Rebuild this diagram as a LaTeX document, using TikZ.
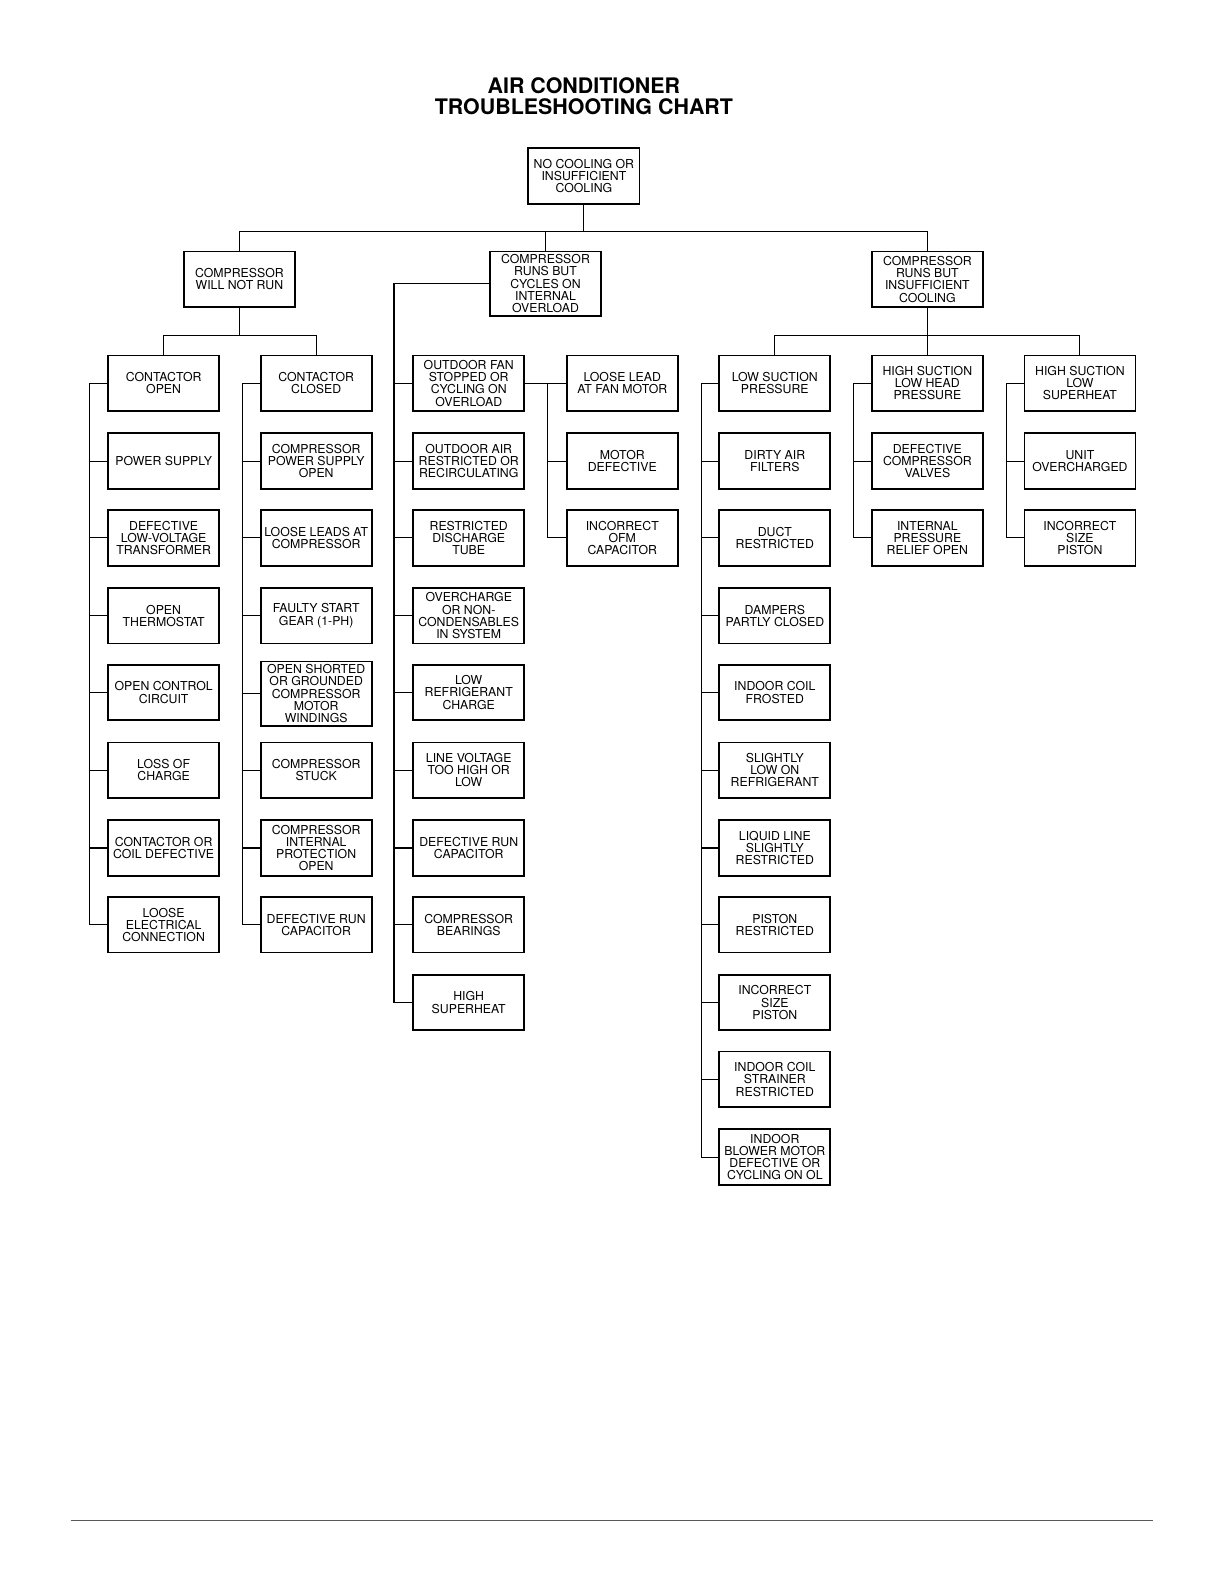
\documentclass[tikz,border=0pt]{standalone}
\usepackage{fontspec}
\setmainfont{TeX Gyre Heros}
\usetikzlibrary{positioning}
\tikzset {
  every node/.style={font=\fontsize{6.15}{6.1}\selectfont},
  cause/.style={draw, line width=.9pt, align=center, anchor=north,
    minimum width=55.5pt, minimum height=27.8pt, inner sep=1.5pt},
  link/.style={line width=.55pt},
}

\begin{document}
\begin{tikzpicture}[x=0.505pt, y=-0.505pt]
  \useasboundingbox (0,0) rectangle (1212,1568);

  \node[anchor=north, inner sep=0, align=center,
    font=\fontsize{10.7}{10.8}\selectfont\bfseries] (title) at (578,76)
    {AIR CONDITIONER\\TROUBLESHOOTING CHART};

  % top levels
  \node[cause] (root) at (578,146) {NO COOLING OR\\INSUFFICIENT\\COOLING};
  \node[cause] (wnr) at (237,248) {COMPRESSOR\\WILL NOT RUN};
  \node[cause] (cyc) at (540,248) {COMPRESSOR\\RUNS BUT\\CYCLES ON\\INTERNAL\\OVERLOAD};
  \node[cause] (ins) at (918,248) {COMPRESSOR\\RUNS BUT\\INSUFFICIENT\\COOLING};

  % compressor will not run
  \node[cause] (copen) at (162,351) {CONTACTOR\\OPEN};
  \node[cause] (op2) at (162,428) {POWER SUPPLY};
  \node[cause] (op3) at (162,504) {DEFECTIVE\\LOW-VOLTAGE\\TRANSFORMER};
  \node[cause] (op4) at (162,581) {OPEN\\THERMOSTAT};
  \node[cause] (op5) at (162,657) {OPEN CONTROL\\CIRCUIT};
  \node[cause] (op6) at (162,734) {LOSS OF\\CHARGE};
  \node[cause] (op7) at (162,811) {CONTACTOR OR\\COIL DEFECTIVE};
  \node[cause] (op8) at (162,887) {LOOSE\\ELECTRICAL\\CONNECTION};

  \node[cause] (cclosed) at (313,351) {CONTACTOR\\CLOSED};
  \node[cause] (cl2) at (313,428) {COMPRESSOR\\POWER SUPPLY\\OPEN};
  \node[cause] (cl3) at (313,504) {LOOSE LEADS AT\\COMPRESSOR};
  \node[cause] (cl4) at (313,581) {FAULTY START\\GEAR (1-PH)};
  \node[cause] (cl5) at (313,654) {OPEN SHORTED\\OR GROUNDED\\COMPRESSOR\\MOTOR\\WINDINGS};
  \node[cause] (cl6) at (313,734) {COMPRESSOR\\STUCK};
  \node[cause] (cl7) at (313,811) {COMPRESSOR\\INTERNAL\\PROTECTION\\OPEN};
  \node[cause] (cl8) at (313,887) {DEFECTIVE RUN\\CAPACITOR};

  % compressor cycles on internal overload
  \node[cause] (cy1) at (464,351) {OUTDOOR FAN\\STOPPED OR\\CYCLING ON\\OVERLOAD};
  \node[cause] (cy2) at (464,428) {OUTDOOR AIR\\RESTRICTED OR\\RECIRCULATING};
  \node[cause] (cy3) at (464,504) {RESTRICTED\\DISCHARGE\\TUBE};
  \node[cause] (cy4) at (464,581) {OVERCHARGE\\OR NON-\\CONDENSABLES\\IN SYSTEM};
  \node[cause] (cy5) at (464,657) {LOW\\REFRIGERANT\\CHARGE};
  \node[cause] (cy6) at (464,734) {LINE VOLTAGE\\TOO HIGH OR\\LOW};
  \node[cause] (cy7) at (464,811) {DEFECTIVE RUN\\CAPACITOR};
  \node[cause] (cy8) at (464,887) {COMPRESSOR\\BEARINGS};
  \node[cause] (cy9) at (464,964) {HIGH\\SUPERHEAT};

  \node[cause] (fan1) at (616,351) {LOOSE LEAD\\AT FAN MOTOR};
  \node[cause] (fan2) at (616,428) {MOTOR\\DEFECTIVE};
  \node[cause] (fan3) at (616,504) {INCORRECT\\OFM\\CAPACITOR};

  % compressor runs, insufficient cooling
  \node[cause] (lsp) at (767,351) {LOW SUCTION\\PRESSURE};
  \node[cause] (ls2) at (767,428) {DIRTY AIR\\FILTERS};
  \node[cause] (ls3) at (767,504) {DUCT\\RESTRICTED};
  \node[cause] (ls4) at (767,581) {DAMPERS\\PARTLY CLOSED};
  \node[cause] (ls5) at (767,657) {INDOOR COIL\\FROSTED};
  \node[cause] (ls6) at (767,734) {SLIGHTLY\\LOW ON\\REFRIGERANT};
  \node[cause] (ls7) at (767,811) {LIQUID LINE\\SLIGHTLY\\RESTRICTED};
  \node[cause] (ls8) at (767,887) {PISTON\\RESTRICTED};
  \node[cause] (ls9) at (767,964) {INCORRECT\\SIZE\\PISTON};
  \node[cause] (ls10) at (767,1040) {INDOOR COIL\\STRAINER\\RESTRICTED};
  \node[cause] (ls11) at (767,1117) {INDOOR\\BLOWER MOTOR\\DEFECTIVE OR\\CYCLING ON OL};

  \node[cause] (hlh) at (918,351) {HIGH SUCTION\\LOW HEAD\\PRESSURE};
  \node[cause] (hl2) at (918,428) {DEFECTIVE\\COMPRESSOR\\VALVES};
  \node[cause] (hl3) at (918,504) {INTERNAL\\PRESSURE\\RELIEF OPEN};

  \node[cause] (hls) at (1069,351) {HIGH SUCTION\\LOW\\SUPERHEAT};
  \node[cause] (hs2) at (1069,428) {UNIT\\OVERCHARGED};
  \node[cause] (hs3) at (1069,504) {INCORRECT\\SIZE\\PISTON};

  % tree connectors
  \coordinate (bar0) at (578,229);
  \coordinate (barA) at (237,332);
  \coordinate (barC) at (918,332);
  \begin{scope}[link]
    \draw (root.south) -- (bar0);
    \draw (wnr.north) |- (bar0) -| (ins.north);
    \draw (cyc.north) -- (cyc.north |- bar0);
    \draw[line width=.9pt] (wnr.south) -- (barA);
    \draw (copen.north) |- (barA) -| (cclosed.north);
    \draw (ins.south) -- (barC);
    \draw (lsp.north) |- (barC) -| (hls.north);
    \draw (hlh.north) -- (hlh.north |- barC);
  \end{scope}

  % side brackets (spines given by their x only)
  \coordinate (spA) at (89,0);
  \coordinate (spB) at (240,0);
  \coordinate (spC) at (390,0);
  \coordinate (spF) at (542,0);
  \coordinate (spL) at (694,0);
  \coordinate (spH) at (845,0);
  \coordinate (spS) at (996,0);
  \begin{scope}[link]
    \draw (copen.west) -- (copen.west -| spA) |- (op8.west);
    \foreach \n in {op2,op3,op4,op5,op6,op7}
      \draw (\n.west) -- (\n.west -| spA);
    \draw (cclosed.west) -- (cclosed.west -| spB) |- (cl8.west);
    \foreach \n in {cl2,cl3,cl4,cl5,cl6,cl7}
      \draw (\n.west) -- (\n.west -| spB);
    \draw (cyc.west) -- (cyc.west -| spC) |- (cy9.west);
    \foreach \n in {cy1,cy2,cy3,cy4,cy5,cy6,cy7,cy8}
      \draw (\n.west) -- (\n.west -| spC);
    \draw (cy1.east) -- (fan1.west);
    \draw (cy1.east -| spF) |- (fan3.west);
    \draw (fan2.west) -- (fan2.west -| spF);
    \draw (lsp.west) -- (lsp.west -| spL) |- (ls11.west);
    \foreach \n in {ls2,ls3,ls4,ls5,ls6,ls7,ls8,ls9,ls10}
      \draw (\n.west) -- (\n.west -| spL);
    \draw (hlh.west) -- (hlh.west -| spH) |- (hl3.west);
    \draw (hl2.west) -- (hl2.west -| spH);
    \draw (hls.west) -- (hls.west -| spS) |- (hs3.west);
    \draw (hs2.west) -- (hs2.west -| spS);
  \end{scope}

  % page rule
  \coordinate (ruleL) at (70,1505);
  \coordinate (ruleR) at (1141,1505);
  \draw[black!65, line width=.7pt] (ruleL) -- (ruleR);
\end{tikzpicture}
\end{document}
